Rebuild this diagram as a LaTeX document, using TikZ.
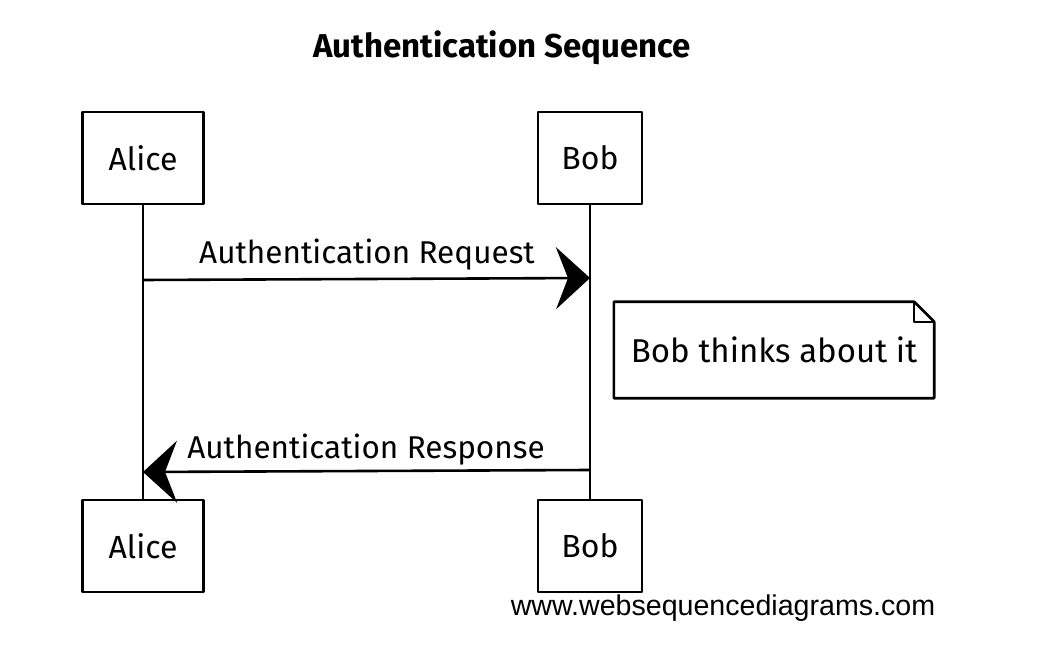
\documentclass[tikz,border=0pt]{standalone}
\usepackage{fontspec}
\usetikzlibrary{arrows.meta}
\newfontfamily\handfont{Fira Sans}
\newfontfamily\webfont{Liberation Sans}

\begin{document}
\begin{tikzpicture}[x=1pt,y=-1pt,line join=round,
    actor node/.style={draw,line width=2.6pt,minimum width=121pt,minimum height=92pt,inner sep=0pt,font=\handfont\fontsize{32}{36}\selectfont},
    bob node/.style={actor node,minimum width=104pt},
    life line/.style={line width=2pt},
    msg/.style={line width=2.6pt,-{Stealth[length=34pt,width=62pt,inset=12pt]}},
    msg label/.style={font=\handfont\fontsize{31.5}{36}\selectfont,inner sep=0pt}]

    \useasboundingbox (0,0) rectangle (1044,660);

    % title
    \node[font=\handfont\bfseries\fontsize{33}{38}\selectfont] (title) at (502,48) {Authentication Sequence};

    % participants
    \node[actor node] (alice top) at (143,158) {Alice};
    \node[bob node] (bob top) at (590,158) {Bob};
    \node[actor node] (alice bot) at (143,546) {Alice};
    \node[bob node] (bob bot) at (590,546) {Bob};

    \draw[life line] (alice top.south) -- (alice bot.north);
    \draw[life line] (bob top.south) -- (bob bot.north);

    % messages
    \coordinate (req a) at (143,280);
    \coordinate (req b) at (590,278);
    \coordinate (res b) at (590,470);
    \coordinate (res a) at (143,472);

    \draw[msg] (req a) -- (req b);
    \node[msg label] (req label) at (367,255) {Authentication Request};
    \draw[msg] (res b) -- (res a);
    \node[msg label] (res label) at (366,450) {Authentication Response};

    % note
    \node[font=\handfont\fontsize{33}{38}\selectfont,minimum width=320pt,minimum height=96pt,inner sep=0pt] (note) at (774,350) {Bob thinks about it};
    \draw[line width=2.6pt] (note.north west) -- ([xshift=-20pt]note.north east) -- ([yshift=-20pt]note.north east) -- (note.south east) -- (note.south west) -- cycle;
    \draw[line width=1.6pt] ([xshift=-20pt]note.north east) -- ([xshift=-20pt,yshift=-20pt]note.north east) -- ([yshift=-20pt]note.north east);

    % footer
    \node[font=\webfont\fontsize{28.6}{32}\selectfont,inner sep=0pt] (web) at (723,608) {www.websequencediagrams.com};
\end{tikzpicture}
\end{document}
